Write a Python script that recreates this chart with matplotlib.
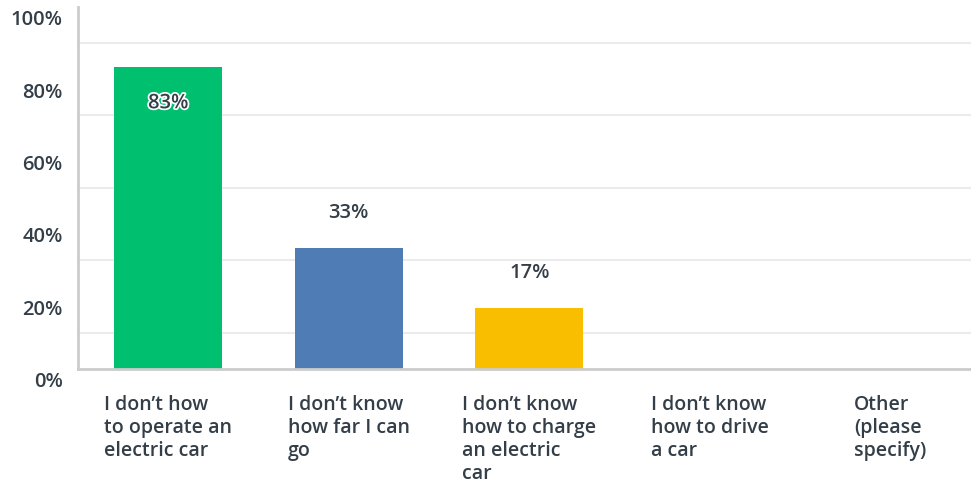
import matplotlib.pyplot as plt
import matplotlib.patheffects as pe
import matplotlib.transforms as mtransforms
import numpy as np

# Survey answers and share of respondents (%)
categories = ['I don\u2019t how\nto operate an\nelectric car',
              'I don\u2019t know\nhow far I can\ngo',
              'I don\u2019t know\nhow to charge\nan electric\ncar',
              'I don\u2019t know\nhow to drive\na car',
              'Other\n(please\nspecify)']
values = [83.3, 33.3, 16.7, 0, 0]
value_labels = ['83%', '33%', '17%', '', '']
bar_colors = ['#00BF6F', '#507CB6', '#F9BE00', '#6BC8CD', '#FF8B4F']
ytick_values = [0, 20, 40, 60, 80, 100]
ytick_labels = ['0%', '20%', '40%', '60%', '80%', '100%']

TEXT = '#333E48'
plt.rcParams['font.family'] = ['Open Sans', 'DejaVu Sans']

fig = plt.figure(figsize=(9.71, 4.89), dpi=100)
ax = fig.add_axes([78 / 971, 119 / 489, 893 / 971, 362.5 / 489])

x = np.arange(len(categories))
bars = ax.bar(x, values, width=0.6, color=bar_colors, zorder=3)

# grid every 10%, labels every 20%
ax.set_yticks(np.arange(0, 101, 10), minor=True)
ax.grid(True, which='minor', axis='y', color='#EBEBEB', linewidth=1.5, zorder=0)
ax.set_yticks(ytick_values)
ax.set_yticklabels(ytick_labels, fontsize=14.5, color=TEXT, fontweight='semibold')
ax.set_ylim(0, 100)
ax.set_xlim(-0.5, 4.447)

ax.set_xticks(x)
ax.set_xticklabels(categories, fontsize=14, color=TEXT, fontweight='semibold',
                   multialignment='left', linespacing=1.2)
ax.tick_params(axis='x', length=0, pad=18)
ax.tick_params(axis='y', which='both', length=0, pad=11)

# y labels sit a bit below their grid lines
offset = mtransforms.ScaledTranslation(0, -0.10, fig.dpi_scale_trans)
for lbl in ax.get_yticklabels():
    lbl.set_transform(lbl.get_transform() + offset)

for s in ['top', 'right']:
    ax.spines[s].set_visible(False)
for s in ['left', 'bottom']:
    ax.spines[s].set_color('#CCCCCC')
    ax.spines[s].set_linewidth(2)
    ax.spines[s].set_zorder(4)

for b, v, lab in zip(bars, values, value_labels):
    if not lab:
        continue
    cx = b.get_x() + b.get_width() / 2
    if v > 50:
        ax.text(cx, v - 10, lab, ha='center', va='center', fontsize=14.5,
                color=TEXT, fontweight='semibold', zorder=5,
                path_effects=[pe.withStroke(linewidth=2.5, foreground='white')])
    else:
        ax.text(cx, v + 10, lab, ha='center', va='center', fontsize=14.5,
                color=TEXT, fontweight='semibold', zorder=5)

fig.savefig('out.png', dpi=100)
